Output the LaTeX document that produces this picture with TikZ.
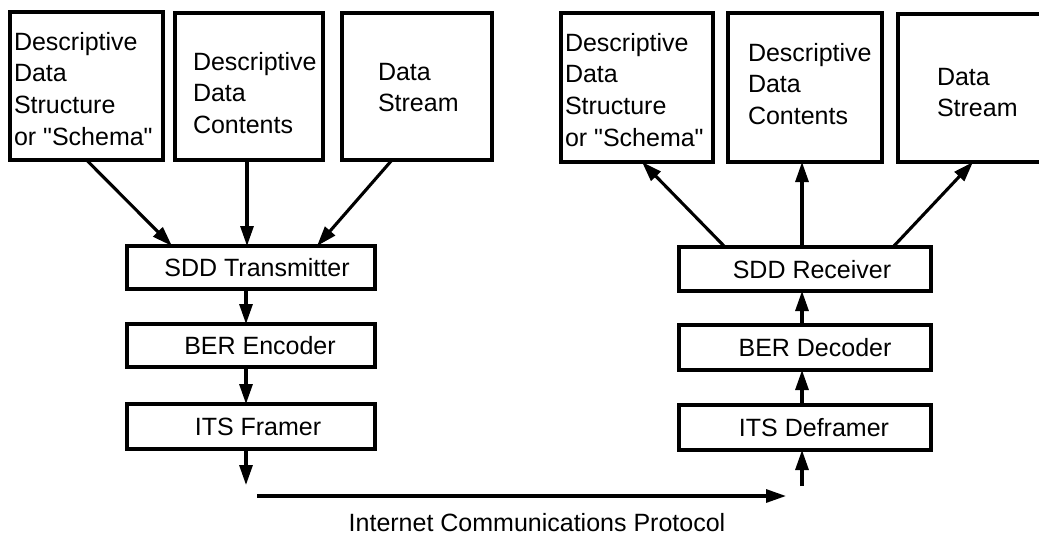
\documentclass[tikz,border=0pt]{standalone}
\usepackage{fontspec}
\setmainfont{Liberation Sans}[Ligatures=TeXOff]
\usetikzlibrary{arrows.meta,calc}
\begin{document}
\begin{tikzpicture}[x=1pt,y=-1pt,
  bigbox/.style={draw=black,line width=3.2pt,anchor=north west,inner sep=0pt,outer sep=0pt},
  midbox/.style={draw=black,line width=3.2pt,anchor=north west,inner sep=0pt,outer sep=0pt,
     text height=18pt,text depth=0pt},
  boxtext/.style={anchor=north west,inner sep=0pt,outer sep=0pt,align=left},
  conn/.style={line width=3.1pt,-{Triangle[length=20pt,width=13pt]}},
  every node/.style={font=\fontsize{25pt}{31.7pt}\selectfont}]
\clip (0,0) rectangle (1039,542);
\fill[white] (0,0) rectangle (1039,542);
% top boxes left
\node[bigbox,minimum width=153pt,minimum height=148pt] (b1) at (10,12) {};
\node[bigbox,minimum width=148pt,minimum height=147pt] (b2) at (175,13) {};
\node[bigbox,minimum width=150pt,minimum height=147pt] (b3) at (342,13) {};
\node[boxtext] (b1t) at (14,32) {Descriptive\\Data\\Structure\\or "Schema"};
\node[boxtext] (b2t) at (193,52) {Descriptive\\Data\\Contents};
\node[boxtext] (b3t) at (378,63) {Data\\Stream};
% top boxes right
\node[bigbox,minimum width=152pt,minimum height=149pt] (b4) at (561,13) {};
\node[bigbox,minimum width=154pt,minimum height=149pt] (b5) at (728,13) {};
\node[bigbox,minimum width=170pt,minimum height=148pt] (b6) at (898,14) {};
\node[boxtext] (b4t) at (565,33) {Descriptive\\Data\\Structure\\or "Schema"};
\node[boxtext] (b5t) at (748,43) {Descriptive\\Data\\Contents};
\node[boxtext] (b6t) at (937,68) {Data\\Stream};
% left chain
\node[midbox,minimum width=248pt,minimum height=43pt] (tx) at (127,246) {\hspace*{12pt}SDD Transmitter};
\node[midbox,minimum width=248pt,minimum height=43pt] (enc) at (127,324) {\hspace*{18pt}BER Encoder};
\node[midbox,minimum width=248pt,minimum height=45pt] (fr) at (127,404) {\hspace*{14pt}ITS Framer};
% right chain
\node[midbox,minimum width=252pt,minimum height=44pt] (rx) at (679,247) {\hspace*{14pt}SDD Receiver};
\node[midbox,minimum width=252pt,minimum height=45pt] (dec) at (679,325) {\hspace*{20pt}BER Decoder};
\node[midbox,minimum width=252pt,minimum height=45pt] (dfr) at (679,405) {\hspace*{18pt}ITS Deframer};
% free ends
\coordinate (fout) at (246,485);
\coordinate (rin) at (802,486);
\coordinate (ps) at (257,496);
\coordinate (pe) at (786,496);
% left connectors
\draw[conn] (b1.south) -- ([xshift=-79pt]tx.north);
\draw[conn] ([xshift=-2pt]b2.south) -- ([xshift=-4pt]tx.north);
\draw[conn] ([xshift=-25pt]b3.south) -- ([xshift=66pt]tx.north);
\draw[conn] ([xshift=-5pt]tx.south) -- ([xshift=-5pt]enc.north);
\draw[conn] ([xshift=-5pt]enc.south) -- ([xshift=-5pt]fr.north);
\draw[conn] ([xshift=-5pt]fr.south) -- (fout);
% right connectors
\draw[conn] ([xshift=-80pt]rx.north) -- ([xshift=5pt]b4.south);
\draw[conn] ([xshift=-3pt]rx.north) -- ([xshift=-3pt]b5.south);
\draw[conn] ([xshift=88pt]rx.north) -- ([xshift=75pt]b6.south west);
\draw[conn] ([xshift=-3pt]dec.north) -- ([xshift=-3pt]rx.south);
\draw[conn] ([xshift=-3pt]dfr.north) -- ([xshift=-3pt]dec.south);
\draw[conn] (rin) -- ([xshift=-3pt]dfr.south);
% protocol
\draw[conn] (ps) -- (pe);
\node[anchor=base,inner sep=0pt] (proto) at (537,531) {Internet Communications Protocol};
\end{tikzpicture}
\end{document}
